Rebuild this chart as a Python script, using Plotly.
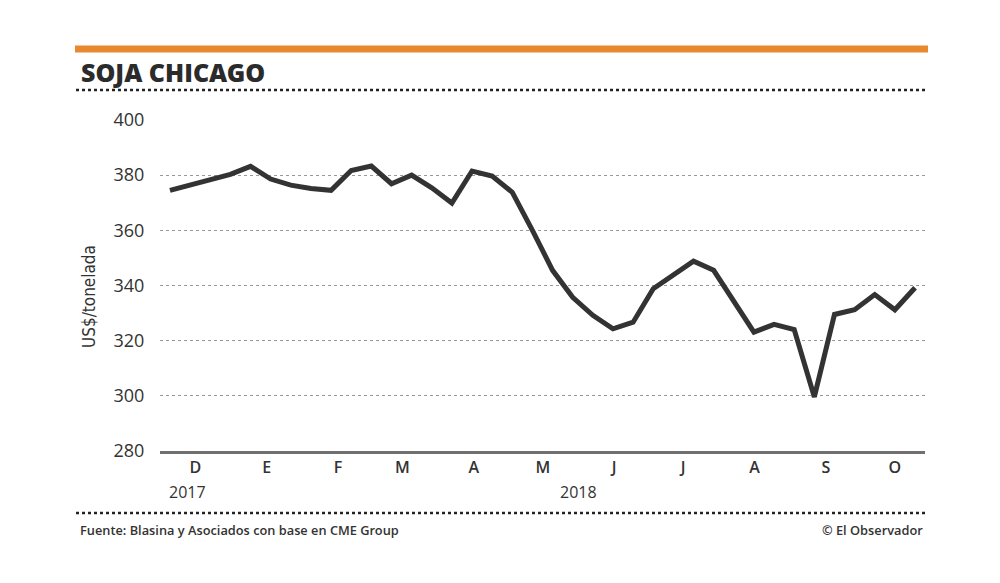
import pandas as pd
import plotly.graph_objects as go

# ---- data ----
start_date = "2017-11-20"
n_points = 38
prices = [374.5, 376.4, 378.3, 380.3, 383.2, 378.6, 376.4, 375.2, 374.5, 381.7,
          383.3, 376.9, 380.0, 375.4, 369.9, 381.5, 379.7, 373.8, 360.0, 345.5,
          335.7, 329.2, 324.3, 326.7, 338.8, 343.7, 348.8, 345.5, 334.0, 323.1,
          325.9, 324.0, 299.6, 329.5, 331.2, 336.7, 331.2, 339.2]
dates = pd.date_range(start_date, periods=n_points, freq="210h")

month_ticks = ["2017-12-01", "2018-01-01", "2018-02-01", "2018-03-01", "2018-04-01",
               "2018-05-01", "2018-06-01", "2018-07-01", "2018-08-01", "2018-09-01",
               "2018-10-01"]
month_labels = ["D", "E", "F", "M", "A", "M", "J", "J", "A", "S", "O"]
y_ticks = [280, 300, 320, 340, 360, 380, 400]
years = ["2017", "2018"]

title = "SOJA CHICAGO"
y_title = "US$/tonelada"
source = "Fuente: Blasina y Asociados con base en CME Group"
credit = "© El Observador"

# ---- layout geometry (pixels in the reference picture) ----
OFF = 8  # page body margin
W, H = 1000 - OFF, 583 - OFF
L, R, T, B = 160, 925, 120, 451
def px(x):
    return (x - L) / (R - L)
def py(y):
    return (B - y) / (B - T)

FONT = "Open Sans, Noto Sans, sans-serif"
TXT = "#333333"

fig = go.Figure()
fig.add_trace(go.Scatter(
    x=dates, y=prices, mode="lines",
    line=dict(color="#333333", width=5),
    hoverinfo="skip", showlegend=False,
))

fig.update_layout(
    width=W, height=H,
    margin=dict(l=L - OFF, r=(1000 - R), t=T - OFF, b=(583 - B), pad=0),
    paper_bgcolor="white", plot_bgcolor="white",
    font=dict(family=FONT, color=TXT),
    xaxis=dict(
        range=["2017-11-15 16:00", "2018-10-14 02:00"],
        tickvals=month_ticks, ticktext=month_labels,
        tickfont=dict(size=16, color=TXT, family="Open Sans SemiBold, Open Sans, sans-serif"),
        showgrid=False, zeroline=False,
        showline=True, linecolor="#707070", linewidth=3,
        ticks="", ticklen=0,
        fixedrange=True,
    ),
    yaxis=dict(
        range=[280, 400], tickvals=y_ticks,
        tickfont=dict(size=18, color=TXT),
        showgrid=True, gridcolor="#999999", gridwidth=1.2, griddash="3px,3px",
        zeroline=False, showline=False,
        ticks="outside", ticklen=11, tickcolor="rgba(0,0,0,0)",
        fixedrange=True,
    ),
)

shapes = [
    # orange bar
    dict(type="line", xref="paper", yref="paper", x0=px(75), x1=px(928), y0=py(49), y1=py(49),
         line=dict(color="#E8892F", width=7)),
    # top dotted
    dict(type="line", xref="paper", yref="paper", x0=px(76), x1=px(925), y0=py(90), y1=py(90),
         line=dict(color="#222222", width=2.5, dash="dot")),
    # bottom dotted
    dict(type="line", xref="paper", yref="paper", x0=px(76), x1=px(925), y0=py(513), y1=py(513),
         line=dict(color="#222222", width=2.5, dash="dot")),
]
fig.update_layout(shapes=shapes)

ann = [
    dict(text="<b>" + title + "</b>", x=px(79), y=py(72), xanchor="left", yanchor="middle",
         font=dict(size=25, color="#2b2b2b", family="Open Sans ExtraBold, Open Sans, sans-serif"),
         ),
    dict(text=y_title, x=px(89), y=py(297), textangle=-90, xanchor="center", yanchor="middle",
         font=dict(size=17, color=TXT, family="DejaVu Sans Condensed, Liberation Sans Narrow, sans-serif")),
    dict(text=years[0], x=px(187), y=py(492), xanchor="center", yanchor="middle",
         font=dict(size=16, color=TXT)),
    dict(text=years[1], x=px(578), y=py(492), xanchor="center", yanchor="middle",
         font=dict(size=16, color=TXT)),
    dict(text=source, x=px(78), y=py(530), xanchor="left", yanchor="middle",
         font=dict(size=12.8, color=TXT, family="Open Sans SemiBold, Open Sans, sans-serif")),
    dict(text=credit, x=px(925), y=py(530), xanchor="right", yanchor="middle",
         font=dict(size=12.8, color=TXT, family="Open Sans SemiBold, Open Sans, sans-serif")),
]
for a in ann:
    a.update(xref="paper", yref="paper", showarrow=False)
fig.update_layout(annotations=ann)

fig.write_html("out.html")
